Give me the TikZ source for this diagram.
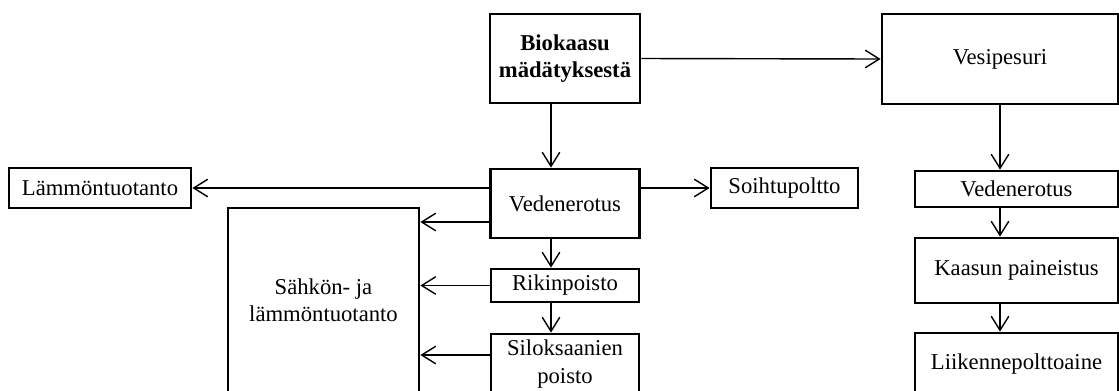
\documentclass[tikz,border=0pt]{standalone}
\usepackage{fontspec}
\setmainfont{Liberation Serif}
\usetikzlibrary{arrows.meta}

\begin{document}
\begin{tikzpicture}[x=0.02cm,y=-0.02cm,
	box/.style={draw,line width=1.6pt,align=center,inner sep=0pt,font=\fontsize{12.9}{15.5}\selectfont},
	arrow/.style={-{Straight Barb[length=8pt,width=10pt]},line width=0.8pt}]
	\useasboundingbox (0,0) rectangle (1119,390);
	\clip (0,0) rectangle (1119,390);
	%Top line
		%Biogas
		\node[box,minimum width=3cm,minimum height=1.78cm] (bio) at (565,58.5) {\textbf{Biokaasu}\\\textbf{mädätyksestä}};
		%Water scrubber
		\node[box,minimum width=4.72cm,minimum height=1.8cm] (ves) at (1000,59) {Vesipesuri};
		%Arrow to water scrubber
		\draw [arrow] (bio.east) -- (ves.west);
	%Middle column
		%Water separation
		\node[box,minimum width=2.98cm,minimum height=1.38cm] (ved) at (565,203.5) {Vedenerotus};
		%Sulphur removal
		\node[box,minimum width=2.96cm,minimum height=0.66cm] (rik) at (565,285.5) {Rikinpoisto};
		%Siloxane removal
		\node[box,minimum width=2.96cm,minimum height=1.2cm] (silo) at (565,364) {Siloksaanien\\poisto};
		%Arrows down
		\draw [arrow] ([xshift=-0.28cm]bio.south) -- ([xshift=-0.28cm]ved.north);
		\draw [arrow] ([xshift=-0.28cm]ved.south) -- ([xshift=-0.28cm]rik.north);
		\draw [arrow] ([xshift=-0.28cm]rik.south) -- ([xshift=-0.28cm]silo.north);
	%Left side
		%Heat production
		\node[box,minimum width=3.64cm,minimum height=0.8cm] (lamm) at (100,188) {Lämmöntuotanto};
		%Combined heat and power
		\node[box,minimum width=3.82cm,minimum height=3.68cm] (sahko) at (323.5,300) {Sähkön- ja\\lämmöntuotanto};
		%Arrows to the left
		\draw [arrow] (ved.west |- lamm.east) -- (lamm.east);
		\coordinate (v2) at ([yshift=-0.37cm]ved.west);
		\draw [arrow] (v2) -- (v2 -| sahko.east);
		\draw [arrow] (rik.west) -- (rik.west -| sahko.east);
		\coordinate (s2) at ([yshift=0.18cm]silo.west);
		\draw [arrow] (s2) -- (s2 -| sahko.east);
	%Flare
		\node[box,minimum width=2.94cm,minimum height=0.8cm] (soih) at (784.5,188) {Soihtupoltto};
		\draw [arrow] (ved.east |- soih.west) -- (soih.west);
	%Right column
		%Water separation
		\node[box,minimum width=4.06cm,minimum height=0.72cm] (ved2) at (1016.5,189) {Vedenerotus};
		%Gas compression
		\node[box,minimum width=4.06cm,minimum height=1.3cm] (kaas) at (1016.5,270.5) {Kaasun paineistus};
		%Vehicle fuel
		\node[box,minimum width=4.06cm,minimum height=1.24cm] (liik) at (1016.5,364) {Liikennepolttoaine};
		%Arrows down
		\draw [arrow] (ves.south) -- (ves.south |- ved2.north);
		\draw [arrow] (ves.south |- ved2.south) -- (ves.south |- kaas.north);
		\draw [arrow] (ves.south |- kaas.south) -- (ves.south |- liik.north);
\end{tikzpicture}
\end{document}
